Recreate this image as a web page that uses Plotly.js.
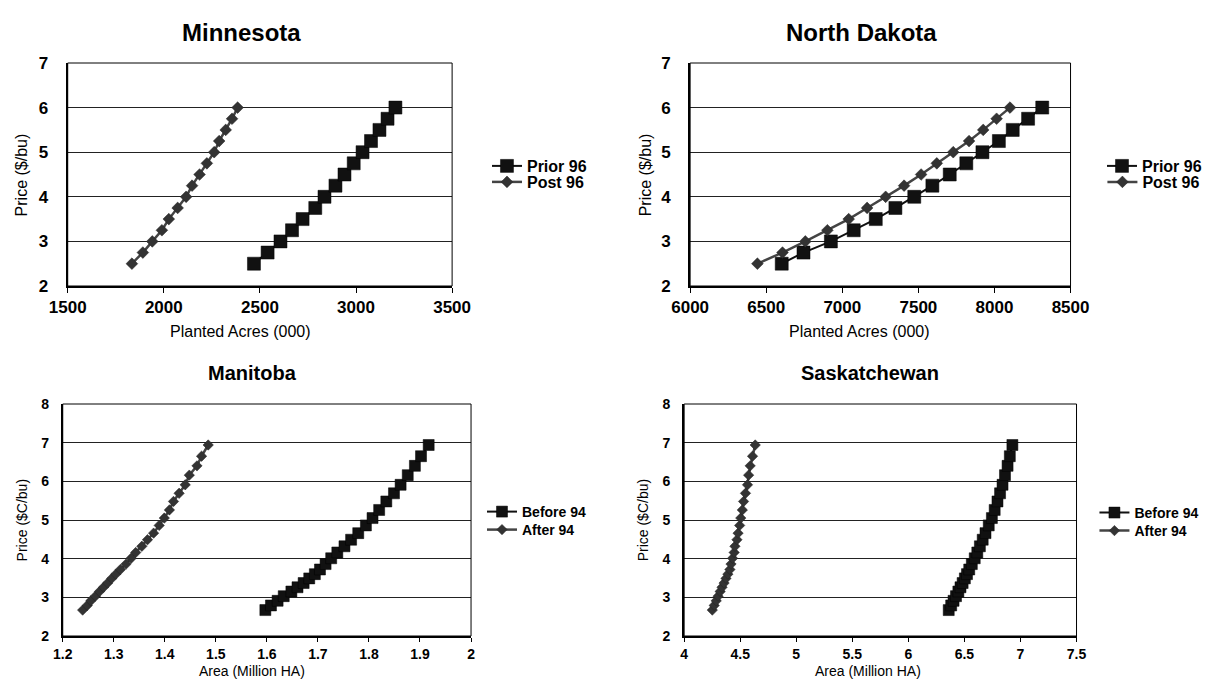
<!DOCTYPE html>
<html>
<head>
<meta charset="utf-8">
<script src="https://cdn.plot.ly/plotly-3.0.1.min.js"></script>
<style>
  html, body { margin: 0; padding: 0; background: #fff; }
  #chart { width: 1207px; height: 681px; }
</style>
</head>
<body>
<div id="chart"></div>
<script>
// ---------------- data ----------------
const usPrice = [2.5, 2.75, 3.0, 3.25, 3.5, 3.75, 4.0, 4.25, 4.5, 4.75, 5.0, 5.25, 5.5, 5.75, 6.0];
const mnPrior96 = [2469, 2540, 2607, 2667, 2722, 2788, 2836, 2893, 2940, 2988, 3034, 3078, 3122, 3164, 3205];
const mnPost96  = [1834, 1891, 1940, 1990, 2026, 2072, 2116, 2147, 2186, 2224, 2262, 2288, 2322, 2355, 2384];
const ndPrior96 = [6602, 6745, 6925, 7075, 7220, 7349, 7473, 7592, 7706, 7815, 7921, 8029, 8120, 8221, 8314];
const ndPost96  = [6442, 6607, 6757, 6902, 7042, 7163, 7285, 7406, 7518, 7621, 7729, 7833, 7926, 8014, 8102];

const cdnPrice = [2.67, 2.79, 2.91, 3.03, 3.15, 3.26, 3.37, 3.49, 3.60, 3.72, 3.86, 4.01, 4.16,
                  4.32, 4.49, 4.66, 4.86, 5.05, 5.26, 5.48, 5.69, 5.91, 6.16, 6.40, 6.65, 6.94];
const mbBefore94 = [1.597, 1.608, 1.621, 1.633, 1.648, 1.660, 1.672, 1.683, 1.694, 1.704, 1.715, 1.726, 1.738,
                    1.752, 1.765, 1.779, 1.794, 1.807, 1.820, 1.834, 1.849, 1.862, 1.876, 1.890, 1.902, 1.917];
const mbAfter94  = [1.239, 1.248, 1.255, 1.264, 1.272, 1.280, 1.288, 1.296, 1.304, 1.313, 1.324, 1.334, 1.343,
                    1.355, 1.366, 1.378, 1.389, 1.399, 1.409, 1.417, 1.428, 1.440, 1.448, 1.463, 1.472, 1.485];
const skBefore94 = [6.360, 6.382, 6.403, 6.425, 6.446, 6.465, 6.484, 6.504, 6.523, 6.543, 6.566, 6.592, 6.615,
                    6.638, 6.663, 6.688, 6.717, 6.745, 6.770, 6.795, 6.818, 6.840, 6.862, 6.885, 6.905, 6.928];
const skAfter94  = [4.251, 4.268, 4.286, 4.303, 4.321, 4.338, 4.356, 4.373, 4.390, 4.408, 4.418, 4.432, 4.446,
                    4.453, 4.471, 4.481, 4.495, 4.505, 4.519, 4.530, 4.547, 4.565, 4.575, 4.589, 4.610, 4.634];

const panelTitles = ['Minnesota', 'North Dakota', 'Manitoba', 'Saskatchewan'];
const usSeries = ['Prior 96', 'Post 96'];
const cdnSeries = ['Before 94', 'After 94'];
const usXTitle = 'Planted Acres (000)';
const usYTitle = 'Price ($/bu)';
const cdnXTitle = 'Area (Million HA)';
const cdnYTitle = 'Price ($C/bu)';

// ---------------- helpers ----------------
const W = 1207, H = 681;
const px = v => v / W;
const py = v => 1 - v / H;
const FONT = 'Liberation Sans, Arial, sans-serif';

function sq(x, y, name, xa, ya, leg, size) {
  return { type: 'scatter', mode: 'lines+markers', x: x, y: y, name: name,
    xaxis: xa, yaxis: ya, legend: leg,
    line: { color: '#111', width: 2 },
    marker: { symbol: 'square', size: size, color: '#111', line: { color: '#000', width: 0.5 } } };
}
function dm(x, y, name, xa, ya, leg, size) {
  return { type: 'scatter', mode: 'lines+markers', x: x, y: y, name: name,
    xaxis: xa, yaxis: ya, legend: leg,
    line: { color: '#444', width: 2.5 },
    marker: { symbol: 'diamond', size: size, color: '#333', line: { color: '#222', width: 0.5 } } };
}

const data = [
  sq(mnPrior96, usPrice, usSeries[0], 'x', 'y', 'legend', 13),
  dm(mnPost96, usPrice, usSeries[1], 'x', 'y', 'legend2', 9),
  sq(ndPrior96, usPrice, usSeries[0], 'x2', 'y2', 'legend3', 13),
  dm(ndPost96, usPrice, usSeries[1], 'x2', 'y2', 'legend4', 9),
  sq(mbBefore94, cdnPrice, cdnSeries[0], 'x3', 'y3', 'legend5', 11),
  dm(mbAfter94, cdnPrice, cdnSeries[1], 'x3', 'y3', 'legend6', 8),
  sq(skBefore94, cdnPrice, cdnSeries[0], 'x4', 'y4', 'legend7', 11),
  dm(skAfter94, cdnPrice, cdnSeries[1], 'x4', 'y4', 'legend8', 8)
];

function xax(domain, range, dtick, anchor, fs, tl) {
  return { domain: domain, range: range, dtick: dtick, tick0: range[0], anchor: anchor,
    showgrid: false, zeroline: false, showline: true, linecolor: '#000', linewidth: 2,
    ticks: 'outside', ticklen: tl, tickwidth: 1, tickcolor: '#000', ticklabelstandoff: 0,
    tickfont: { family: FONT, size: fs, color: '#000', weight: 'bold' }, fixedrange: true };
}
function yax(domain, range, anchor, fs, so) {
  return { domain: domain, range: range, dtick: 1, tick0: range[0], anchor: anchor,
    showgrid: true, gridcolor: '#222', gridwidth: 1, zeroline: false,
    showline: true, linecolor: '#000', linewidth: 2,
    ticks: '', ticklabelstandoff: so,
    tickfont: { family: FONT, size: fs, color: '#000', weight: 'bold' }, fixedrange: true };
}

const usY = [py(286), py(63)];
const cdnY = [py(636), py(404)];

function frame(xr, yr) {
  return { type: 'rect', xref: xr + ' domain', yref: yr + ' domain', x0: 0, x1: 1, y0: 0, y1: 1,
    line: { color: '#000', width: 1 }, layer: 'above' };
}
function ann(text, x, y, size, bold, angle) {
  return { text: text, x: px(x), y: py(y), xref: 'paper', yref: 'paper', showarrow: false,
    xanchor: 'center', yanchor: 'middle', textangle: angle || 0,
    font: { family: FONT, size: size, color: '#000', weight: bold ? 'bold' : 'normal' } };
}
function leg(x, y, fs) {
  return { x: px(x), y: py(y), xref: 'paper', yref: 'paper', xanchor: 'left', yanchor: 'middle',
    bgcolor: 'rgba(0,0,0,0)', borderwidth: 0, itemwidth: 30, tracegroupgap: 0,
    font: { family: FONT, size: fs, color: '#000', weight: 'bold' } };
}

const layout = {
  width: W, height: H,
  margin: { l: 0, r: 0, t: 0, b: 0 },
  paper_bgcolor: '#fff', plot_bgcolor: '#fff',
  showlegend: true,
  xaxis:  xax([px(68), px(454)], [1500, 3500], 500, 'y', 17, 5),
  yaxis:  yax(usY, [2, 7], 'x', 17, 14),
  xaxis2: xax([px(693), px(1075)], [6000, 8500], 500, 'y2', 17, 5),
  yaxis2: yax(usY, [2, 7], 'x2', 17, 14),
  xaxis3: xax([px(63), px(473)], [1.2, 2], 0.1, 'y3', 14, 4),
  yaxis3: yax(cdnY, [2, 8], 'x3', 14, 9),
  xaxis4: xax([px(687), px(1081)], [4, 7.5], 0.5, 'y4', 14, 4),
  yaxis4: yax(cdnY, [2, 8], 'x4', 14, 9),
  legend:  leg(489, 166, 16),
  legend2: leg(489, 182, 16),
  legend3: leg(1107, 166, 16),
  legend4: leg(1107, 182, 16),
  legend5: leg(484, 512, 14),
  legend6: leg(484, 530, 14),
  legend7: leg(1099, 513, 14),
  legend8: leg(1099, 531, 14),
  shapes: [frame('x', 'y'), frame('x2', 'y2'), frame('x3', 'y3'), frame('x4', 'y4')],
  annotations: [
    ann(panelTitles[0], 243, 32, 24, true),
    ann(panelTitles[1], 865, 32, 24, true),
    ann(panelTitles[2], 254, 373, 20, true),
    ann(panelTitles[3], 874, 373, 20, true),
    ann(usXTitle, 242, 331, 16, false),
    ann(usXTitle, 863, 331, 16, false),
    ann(cdnXTitle, 253, 671, 14, false),
    ann(cdnXTitle, 872, 671, 14, false),
    ann(usYTitle, 21.5, 175, 16, false, -90),
    ann(usYTitle, 648, 175, 16, false, -90),
    ann(cdnYTitle, 22.5, 520, 14, false, -90),
    ann(cdnYTitle, 646, 520, 14, false, -90)
  ]
};

Plotly.newPlot('chart', data, layout, { staticPlot: true, displayModeBar: false });
</script>
</body>
</html>
